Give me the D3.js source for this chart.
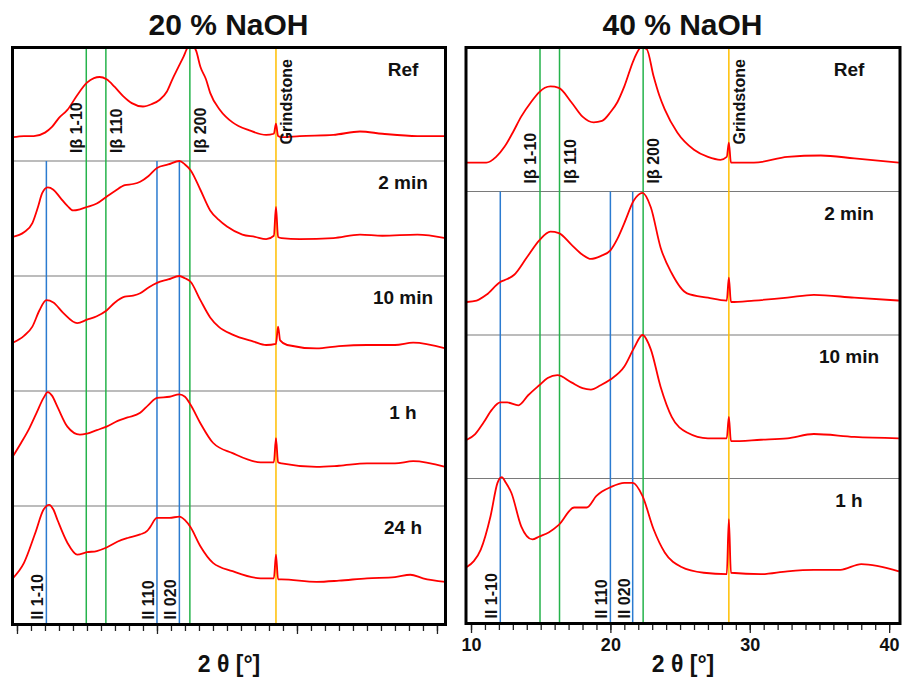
<!DOCTYPE html>
<html>
<head>
<meta charset="utf-8">
<script src="https://cdn.jsdelivr.net/npm/d3@7"></script>
<style>
  body { margin: 0; background: #fff; }
  text { font-family: "Liberation Sans", Arial, sans-serif; font-weight: bold; fill: #111; }
</style>
</head>
<body>
<div id="chart"></div>
<script>
// ---- data: [2theta (deg), intensity (% of band height)] ----
// 20 % NaOH
var naoh20Ref = [[9.7,21],[10.5,22],[11.2,22],[12.0,25],[12.5,30],[13.0,38],[13.6,45],[14.3,58],[15.0,69],[15.5,73],[15.9,74],[16.4,72],[17.0,65],[17.6,57],[18.2,51],[19.0,48],[19.6,50],[20.2,54],[20.7,61],[21.1,72],[21.5,82],[21.9,92],[22.2,100],[22.5,102],[22.8,97],[23.1,83],[23.5,72],[23.8,60],[24.5,45],[25.4,34],[26.6,27],[27.8,23],[28.35,24],[28.5,33],[28.65,22],[28.9,21],[30.2,22],[32.6,23],[34.5,26],[36.1,24],[38.6,22],[40.6,22]];
var naoh20Min2 = [[9.7,34],[10.5,38],[11.1,46],[11.5,60],[11.8,72],[12.2,77],[12.6,75],[13.1,68],[13.6,61],[14.0,57],[14.5,58],[15.0,60],[15.7,63],[16.4,69],[17.0,74],[17.7,79],[18.3,80],[18.8,82],[19.4,87],[20.0,94],[20.8,97],[21.6,100],[22.0,97],[22.4,92],[23.1,75],[23.8,57],[24.4,49],[25.0,43],[26.1,36],[27.0,34],[27.8,32],[28.35,35],[28.5,60],[28.65,34],[28.9,33],[30.2,32],[32.6,33],[34.5,36],[36.1,35],[38.6,36],[40.6,33]];
var naoh20Min10 = [[9.7,42],[10.5,48],[11.1,56],[11.6,70],[12.1,79],[12.6,77],[13.3,68],[14.3,59],[15.0,62],[15.7,65],[16.4,70],[17.0,77],[17.7,82],[18.3,83],[18.8,85],[19.4,90],[20.0,94],[20.8,97],[21.6,100],[22.0,98],[22.4,95],[23.1,79],[23.8,64],[24.4,56],[25.4,49],[26.9,43],[27.8,40],[28.5,41],[28.65,56],[28.8,44],[29.3,40],[31.4,37],[33.0,39],[35.0,40],[37.0,40],[38.3,42],[40.6,37]];
var naoh20H1 = [[9.7,43],[10.3,55],[10.9,68],[11.4,81],[11.9,94],[12.2,99],[12.5,96],[12.9,86],[13.6,69],[14.5,62],[15.0,63],[15.7,66],[16.4,69],[17.2,74],[17.9,77],[18.8,81],[19.4,88],[20.0,94],[20.9,95],[21.6,97],[22.0,95],[22.4,88],[23.1,72],[24.0,55],[25.4,46],[27.4,38],[28.35,38],[28.5,59],[28.65,38],[28.9,37],[31.4,34],[33.0,35],[35.0,37],[37.0,37],[38.3,39],[40.6,34]];
var naoh20H24 = [[9.7,39],[10.5,52],[11.3,77],[11.9,97],[12.3,101],[12.6,97],[12.9,88],[13.6,69],[14.3,59],[15.0,61],[15.7,62],[16.4,65],[17.2,70],[17.9,73],[18.8,76],[19.3,79],[19.5,82],[20.0,90],[20.9,90],[21.6,91],[22.0,88],[22.4,82],[23.1,66],[24.0,52],[25.4,45],[27.4,39],[28.35,39],[28.5,59],[28.65,38],[28.9,38],[31.4,36],[33.0,37],[35.0,39],[37.0,40],[38.1,42],[39.0,39],[40.6,36]];

// 40 % NaOH
var naoh40Ref = [[9.7,20],[11.1,20],[11.8,24],[12.4,31],[13.0,41],[13.6,52],[14.3,62],[14.9,69],[15.3,72],[15.7,73],[16.3,72],[17.2,62],[18.0,52],[18.8,48],[19.4,49],[20.0,55],[20.5,62],[21.0,73],[21.7,92],[22.2,100],[22.6,99],[23.1,80],[23.5,67],[23.9,57],[24.8,41],[26.0,29],[27.0,24],[27.9,22],[28.35,24],[28.5,34],[28.65,20],[30.3,20],[32.7,24],[35.1,25],[37.5,23],[40.7,20]];
var naoh40Min2 = [[9.7,23],[10.4,24],[11.1,28],[12.1,37],[12.6,39],[13.1,42],[14.0,54],[14.9,66],[15.7,72],[16.3,71],[17.2,63],[18.0,56],[18.6,53],[19.3,55],[20.0,59],[20.5,67],[21.0,78],[21.7,94],[22.3,99],[22.9,89],[23.6,61],[24.4,43],[25.5,29],[27.0,26],[28.35,24],[28.5,40],[28.65,23],[30.3,24],[32.7,26],[34.6,28],[37.5,26],[40.7,24]];
var naoh40Min10 = [[9.7,27],[10.3,31],[10.9,39],[11.5,48],[12.1,53],[12.6,53],[13.4,51],[14.1,58],[14.9,65],[15.5,70],[16.2,72],[17.2,67],[18.0,63],[18.6,62],[19.3,65],[20.0,69],[21.0,78],[21.7,91],[22.3,100],[22.9,90],[23.6,64],[24.4,43],[25.5,32],[27.0,28],[28.35,28],[28.5,43],[28.65,26],[30.8,27],[32.7,28],[34.6,31],[37.5,29],[40.7,28]];
var naoh40H1 = [[9.7,39],[10.2,43],[10.7,51],[11.4,74],[11.9,97],[12.2,101],[12.5,97],[12.9,90],[13.6,67],[14.4,58],[14.9,60],[15.6,63],[16.3,68],[17.4,80],[18.3,80],[19.0,88],[19.4,91],[20.0,94],[21.0,97],[21.6,97],[22.3,88],[23.1,65],[23.9,49],[25.1,39],[26.7,35],[28.35,34],[28.5,72],[28.65,35],[30.8,34],[32.7,36],[34.6,37],[36.5,37],[38.0,41],[40.7,36]];

var labels20 = ["Ref", "2 min", "10 min", "1 h", "24 h"];
var labels40 = ["Ref", "2 min", "10 min", "1 h"];

// reflection positions (2theta)
var cellIbeta = [["Iβ 1-10", 14.95], ["Iβ 110", 16.35], ["Iβ 200", 22.35]];
var cellII = [["II 1-10", 12.1], ["II 110", 20.0], ["II 020", 21.6]];
var grindstone = [["Grindstone", 28.5]];

var majorTicks = [10, 20, 30, 40];

// ---- drawing ----
var svg = d3.select("#chart").append("svg")
    .attr("width", 913)
    .attr("height", 677);

var panels = [
  { id: "p20", title: "20 % NaOH", left: 12.5, right: 445.5, dom: [9.68, 40.61],
    seps: [47.5, 161, 276, 391, 506, 624.5], traces: [naoh20Ref, naoh20Min2, naoh20Min10, naoh20H1, naoh20H24],
    names: labels20, nameX: 403, tickText: false },
  { id: "p40", title: "40 % NaOH", left: 466, right: 900, dom: [9.64, 40.78],
    seps: [47.5, 191.5, 335, 478.5, 623.5], traces: [naoh40Ref, naoh40Min2, naoh40Min10, naoh40H1],
    names: labels40, nameX: 849, tickText: true }
];

// label offsets from the line (baseline side)
var ibetaOffset = { "Iβ 1-10": -4, "Iβ 110": 16, "Iβ 200": 16 };

panels.forEach(function(p) {
  var top = p.seps[0], bottom = p.seps[p.seps.length - 1];
  var cx = (p.left + p.right) / 2;
  var x = d3.scaleLinear().domain(p.dom).range([p.left, p.right]);
  var g = svg.append("g");

  g.append("clipPath").attr("id", "clip-" + p.id)
    .append("rect")
      .attr("x", p.left).attr("y", top)
      .attr("width", p.right - p.left).attr("height", bottom - top);

  // title
  g.append("text")
    .attr("x", cx - 0.5).attr("y", 35)
    .attr("text-anchor", "middle")
    .style("font-size", "30px")
    .text(p.title);

  // band separators
  p.seps.slice(1, -1).forEach(function(s) {
    g.append("line")
      .attr("x1", p.left).attr("x2", p.right)
      .attr("y1", s).attr("y2", s)
      .attr("stroke", "#7a7a7a").attr("stroke-width", 1.2);
  });

  // reflection lines
  cellIbeta.forEach(function(r) {
    g.append("line")
      .attr("x1", x(r[1])).attr("x2", x(r[1]))
      .attr("y1", top).attr("y2", bottom)
      .attr("stroke", "#25b34b").attr("stroke-width", 1.5);
  });
  cellII.forEach(function(r) {
    g.append("line")
      .attr("x1", x(r[1])).attr("x2", x(r[1]))
      .attr("y1", p.seps[1]).attr("y2", bottom)
      .attr("stroke", "#2b7bd0").attr("stroke-width", 1.5);
  });
  grindstone.forEach(function(r) {
    g.append("line")
      .attr("x1", x(r[1])).attr("x2", x(r[1]))
      .attr("y1", top).attr("y2", bottom)
      .attr("stroke", "#ffbf00").attr("stroke-width", 1.5);
  });

  // traces
  var tg = g.append("g").attr("clip-path", "url(#clip-" + p.id + ")");
  p.traces.forEach(function(data, i) {
    var y = d3.scaleLinear().domain([0, 100]).range([p.seps[i + 1], p.seps[i]]);
    tg.append("path")
      .datum(data)
      .attr("fill", "none")
      .attr("stroke", "#ff0000")
      .attr("stroke-width", 1.8)
      .attr("d", d3.line()
        .x(function(d) { return x(d[0]); })
        .y(function(d) { return y(d[1]); })
        .curve(d3.curveMonotoneX));

    g.append("text")
      .attr("x", p.nameX).attr("y", p.seps[i] + 28)
      .attr("text-anchor", "middle")
      .style("font-size", "19px")
      .text(p.names[i]);
  });

  // rotated reflection labels
  cellIbeta.forEach(function(r) {
    g.append("text")
      .attr("transform", "translate(" + (x(r[1]) + ibetaOffset[r[0]]) + "," + (p.seps[1] - 8) + ")rotate(-90)")
      .style("font-size", "16px")
      .text(r[0]);
  });
  cellII.forEach(function(r) {
    g.append("text")
      .attr("transform", "translate(" + (x(r[1]) - 3) + "," + (bottom - 5) + ")rotate(-90)")
      .style("font-size", "16px")
      .text(r[0]);
  });
  grindstone.forEach(function(r) {
    g.append("text")
      .attr("transform", "translate(" + (x(r[1]) + 16) + "," + (top + 97) + ")rotate(-90)")
      .style("font-size", "16px")
      .text(r[0]);
  });

  // axes
  var minor = g.append("g")
    .attr("transform", "translate(0," + (bottom + 1.5) + ")")
    .call(d3.axisBottom(x).tickValues(d3.range(10, 41)).tickSize(5).tickFormat(""));
  var major = g.append("g")
    .attr("transform", "translate(0," + (bottom + 1.5) + ")")
    .call(d3.axisBottom(x).tickValues(majorTicks).tickSize(8).tickPadding(5)
      .tickFormat(p.tickText ? d3.format("d") : ""));
  [minor, major].forEach(function(a) {
    a.select(".domain").remove();
    a.selectAll("line").attr("stroke", "#222").attr("stroke-width", 1.3);
  });
  major.selectAll("text").style("font-size", "18px").attr("fill", "#111");

  g.append("text")
    .attr("x", cx).attr("y", 672)
    .attr("text-anchor", "middle")
    .style("font-size", "23px")
    .text("2 θ [°]");

  // frame
  g.append("rect")
    .attr("x", p.left).attr("y", top)
    .attr("width", p.right - p.left).attr("height", bottom - top)
    .attr("fill", "none")
    .attr("stroke", "#000")
    .attr("stroke-width", 3);
});
</script>
</body>
</html>
